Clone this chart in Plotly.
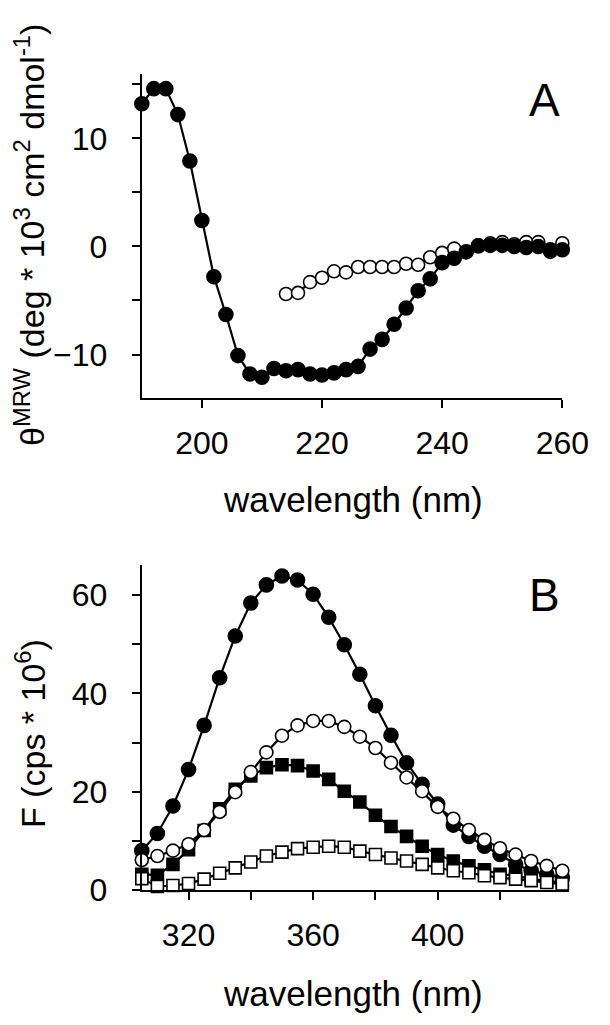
import plotly.graph_objects as go

W, H = 610, 1025

# ---------------- Panel A data (CD spectra) ----------------
cd_wl_filled = [190, 192, 194, 196, 198, 200, 202, 204, 206, 208, 210, 212, 214, 216, 218, 220,
                222, 224, 226, 228, 230, 232, 234, 236, 238, 240, 242, 244, 246, 248, 250, 252,
                254, 256, 258, 260]
cd_filled = [13.2, 14.6, 14.6, 12.2, 7.9, 2.4, -2.8, -6.3, -10.1, -11.8, -12.1, -11.3, -11.5, -11.4,
             -11.8, -11.9, -11.7, -11.4, -11.1, -9.5, -8.6, -7.2, -5.7, -4.1, -3.0, -1.5, -1.1, -0.5,
             0.05, 0.1, 0.1, 0.0, -0.1, 0.0, -0.3, -0.3]
cd_wl_open = [214, 216, 218, 220, 222, 224, 226, 228, 230, 232, 234, 236, 238, 240, 242, 244,
              246, 248, 250, 252, 254, 256, 258, 260]
cd_open = [-4.4, -4.3, -3.3, -2.9, -2.3, -2.4, -1.9, -1.9, -1.9, -1.9, -1.6, -1.7, -1.0, -0.6,
           -0.2, -0.5, 0.1, 0.3, 0.4, 0.2, 0.4, 0.4, -0.5, 0.3]

# ---------------- Panel B data (fluorescence) ----------------
fl_wl = [305, 310, 315, 320, 325, 330, 335, 340, 345, 350, 355, 360, 365, 370, 375, 380, 385,
         390, 395, 400, 405, 410, 415, 420, 425, 430, 435, 440]
fl_filled_circle = [8.0, 11.5, 17.1, 24.5, 33.5, 43.2, 51.7, 58.4, 62.1, 63.9, 63.1, 60.2, 55.5,
                    49.9, 43.9, 37.5, 31.5, 25.9, 21.5, 17.5, 13.2, 10.9, 8.9, 7.2, 5.2, 3.9, 3.2, 2.5]
fl_open_circle = [6.1, 6.9, 8.0, 9.3, 12.2, 15.9, 19.9, 24.0, 28.0, 31.4, 33.5, 34.4, 34.4, 33.2,
                  31.2, 28.9, 25.9, 22.9, 20.1, 16.9, 14.5, 12.2, 10.2, 8.5, 7.2, 5.9, 4.9, 3.9]
fl_filled_square = [3.2, 3.0, 5.2, 8.2, 12.1, 16.5, 20.5, 23.2, 24.9, 25.5, 25.3, 24.2, 22.5, 20.1,
                    17.9, 15.2, 12.9, 10.9, 8.9, 7.2, 5.9, 4.9, 4.1, 3.2, 2.9, 2.2, 1.9, 1.5]
fl_open_square = [2.3, 0.7, 0.9, 1.3, 2.2, 3.4, 4.5, 5.7, 6.9, 7.7, 8.4, 8.7, 8.9, 8.7, 7.9, 7.2,
                  6.5, 5.9, 5.2, 4.5, 3.9, 3.5, 2.9, 2.5, 2.2, 1.9, 1.5, 1.2]

# tick values
a_xticks = [200, 220, 240, 260]
a_yticks = [-10, 0, 10]
a_yminor = [-5, 5, 15]
b_xticks = [320, 360, 400]
b_xminor = [340, 380, 420]
b_yticks = [0, 20, 40, 60]
b_yminor = [10, 30, 50]

FONT = "Liberation Sans, Arial, sans-serif"
BLACK = "#000000"


def px_x(p):
    return p / W


def px_y(p):
    return 1 - p / H


fig = go.Figure()


def add(x, y, symbol, filled, size, xa, ya):
    fig.add_trace(go.Scatter(
        x=x, y=y, mode="lines+markers", xaxis=xa, yaxis=ya,
        line=dict(color=BLACK, width=2.2),
        marker=dict(symbol=symbol, size=size,
                    color=BLACK if filled else "white",
                    line=dict(color=BLACK, width=1.6)),
        cliponaxis=False, showlegend=False, hoverinfo="skip"))


# Panel A
add(cd_wl_open, cd_open, "circle", False, 13, "x", "y")
add(cd_wl_filled, cd_filled, "circle", True, 14, "x", "y")

# Panel B
add(fl_wl, fl_filled_circle, "circle", True, 14, "x2", "y2")
add(fl_wl, fl_filled_square, "square", True, 12, "x2", "y2")
add(fl_wl, fl_open_square, "square", False, 12, "x2", "y2")
add(fl_wl, fl_open_circle, "circle", False, 13, "x2", "y2")

TICKFONT = dict(family=FONT, size=32, color=BLACK)

axis_common = dict(showline=True, linecolor=BLACK, linewidth=2, ticks="outside",
                   ticklen=8, tickwidth=2, tickcolor=BLACK, showgrid=False, zeroline=False,
                   tickfont=TICKFONT, mirror=False)

fig.update_layout(
    width=W, height=H,
    margin=dict(l=0, r=0, t=0, b=0),
    paper_bgcolor="white", plot_bgcolor="white",
    font=dict(family=FONT, color=BLACK),
    xaxis=dict(domain=[px_x(140), px_x(580)], range=[190, 260], anchor="y",
               tickmode="array", tickvals=a_xticks, ticklabelstandoff=8, **axis_common),
    yaxis=dict(domain=[px_y(396.7), px_y(66.7)], range=[-14, 16], anchor="x",
               tickmode="array", tickvals=a_yticks, ticklabelstandoff=18,
               minor=dict(tickmode="array", tickvals=a_yminor, ticks="outside", ticklen=8,
                          tickwidth=2, tickcolor=BLACK, showgrid=False),
               **axis_common),
    xaxis2=dict(domain=[px_x(140), px_x(586.5)], range=[305, 442], anchor="y2",
                tickmode="array", tickvals=b_xticks, ticklabelstandoff=8,
                minor=dict(tickmode="array", tickvals=b_xminor, ticks="outside", ticklen=8,
                           tickwidth=2, tickcolor=BLACK, showgrid=False),
                **axis_common),
    yaxis2=dict(domain=[px_y(897.7), px_y(566.7)], range=[0, 66.2], anchor="x2",
                tickmode="array", tickvals=b_yticks, ticklabelstandoff=18,
                minor=dict(tickmode="array", tickvals=b_yminor, ticks="outside", ticklen=8,
                           tickwidth=2, tickcolor=BLACK, showgrid=False),
                **axis_common),
)

TITLEFONT = dict(family=FONT, size=35, color=BLACK)
YTITLEFONT = dict(family=FONT, size=34, color=BLACK)
ann = [
    dict(text="wavelength (nm)", x=px_x(361), y=px_y(500), xref="paper", yref="paper",
         xanchor="center", yanchor="middle", showarrow=False, font=TITLEFONT),
    dict(text="wavelength (nm)", x=px_x(361), y=px_y(1003), xref="paper", yref="paper",
         xanchor="center", yanchor="middle", showarrow=False, font=TITLEFONT),
    dict(text="θ<sup>MRW</sup> (deg * 10<sup>3</sup> cm<sup>2</sup> dmol<sup>-1</sup>)",
         x=px_x(23), y=px_y(231), xref="paper", yref="paper", textangle=-90,
         xanchor="center", yanchor="middle", showarrow=False, font=YTITLEFONT),
    dict(text="F (cps * 10<sup>6</sup>)",
         x=px_x(23), y=px_y(738), xref="paper", yref="paper", textangle=-90,
         xanchor="center", yanchor="middle", showarrow=False, font=YTITLEFONT),
    dict(text="A", x=px_x(561), y=px_y(94), xref="paper", yref="paper",
         xanchor="center", yanchor="middle", showarrow=False,
         font=dict(family=FONT, size=46, color=BLACK)),
    dict(text="B", x=px_x(561), y=px_y(597), xref="paper", yref="paper",
         xanchor="center", yanchor="middle", showarrow=False,
         font=dict(family=FONT, size=46, color=BLACK)),
]
fig.update_layout(annotations=ann)

fig.write_html("out.html")
